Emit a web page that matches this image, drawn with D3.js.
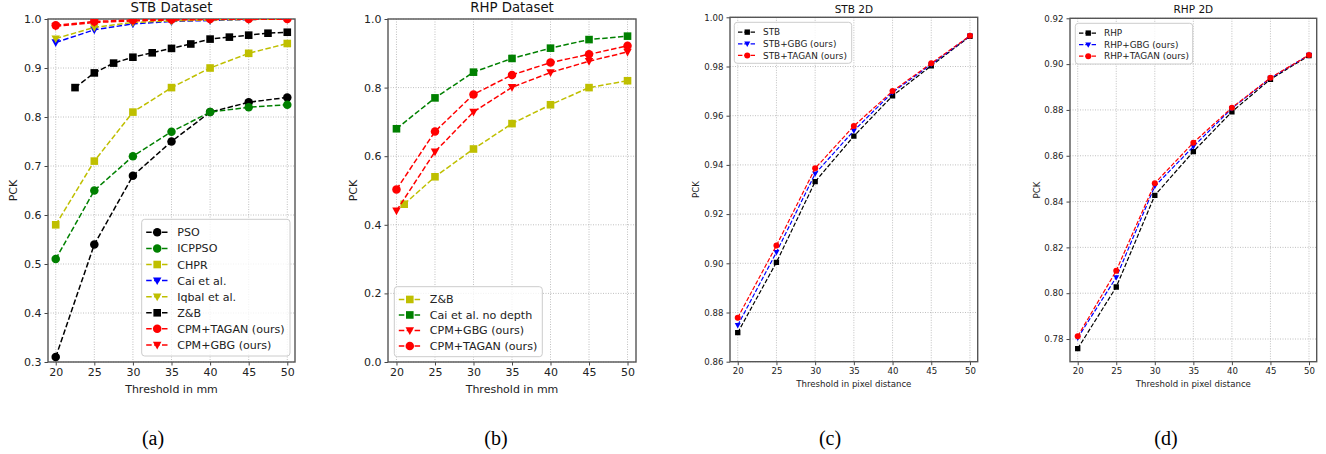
<!DOCTYPE html>
<html>
<head>
<meta charset="utf-8">
<script src="https://cdn.jsdelivr.net/npm/d3@7"></script>
<style>
  body { margin: 0; background: #fff; }
  svg { display: block; font-family: "DejaVu Sans", sans-serif; }
  .grid line { stroke: #b0b0b0; stroke-width: 0.8; stroke-dasharray: 1,1.5; }
  .axis path, .axis line { stroke: #444; }
  .axis text { fill: #222; }
</style>
</head>
<body>
<div class="chart"></div>
<script>
// === Data ===
const thresholds = [20, 25, 30, 35, 40, 45, 50];
const zbThresholdsA = [22.5, 25, 27.5, 30, 32.5, 35, 37.5, 40, 42.5, 45, 47.5, 50];
const zbThresholdsB = [21, 25, 30, 35, 40, 45, 50];

// (a) STB Dataset
const stbPSO    = [0.31, 0.54, 0.68, 0.75, 0.81, 0.83, 0.84];
const stbICPPSO = [0.51, 0.65, 0.72, 0.77, 0.81, 0.82, 0.825];
const stbCHPR   = [0.58, 0.71, 0.81, 0.86, 0.90, 0.93, 0.95];
const stbCai    = [0.952, 0.978, 0.99, 0.995, 0.997, 0.999, 1.0];
const stbIqbal  = [0.96, 0.983, 0.993, 0.996, 0.998, 0.999, 1.0];
const stbZB     = [0.86, 0.89, 0.91, 0.922, 0.931, 0.94, 0.949, 0.959, 0.963, 0.967, 0.971, 0.973];
const stbTAGAN  = [0.987, 0.995, 0.998, 0.999, 1.0, 1.0, 1.0];
const stbGBG    = [0.985, 0.993, 0.996, 0.998, 0.999, 1.0, 1.0];

// (b) RHP Dataset
const rhpZB      = [0.46, 0.54, 0.621, 0.695, 0.75, 0.80, 0.82];
const rhpCaiNoD  = [0.68, 0.77, 0.845, 0.885, 0.915, 0.94, 0.95];
const rhpGBG     = [0.441, 0.613, 0.729, 0.801, 0.844, 0.877, 0.904];
const rhpTAGAN   = [0.503, 0.672, 0.78, 0.837, 0.873, 0.897, 0.922];

// (c) STB 2D
const stb2dBase  = [0.8718, 0.9004, 0.9332, 0.9517, 0.9681, 0.9803, 0.9923];
const stb2dGBG   = [0.8748, 0.9045, 0.9364, 0.9539, 0.9695, 0.9809, 0.9924];
const stb2dTAGAN = [0.8779, 0.9072, 0.9386, 0.9558, 0.9700, 0.9813, 0.9925];

// (d) RHP 2D
const rhp2dBase  = [0.7758, 0.8027, 0.8427, 0.8618, 0.8792, 0.8934, 0.9037];
const rhp2dGBG   = [0.7805, 0.8069, 0.8467, 0.8640, 0.8807, 0.8939, 0.9040];
const rhp2dTAGAN = [0.7812, 0.8098, 0.8480, 0.8657, 0.8810, 0.8940, 0.9040];

const captions = ["(a)", "(b)", "(c)", "(d)"];

// === Colours (matplotlib shorthands) ===
const C = {k: "#000000", g: "#008000", y: "#bfbf00", b: "#0000ff", r: "#ff0000"};

// === Panels ===
const panels = [
  {
    title: "STB Dataset", xLabel: "Threshold in mm", big: true,
    left: 48, right: 295, top: 19, bottom: 362,
    yDomain: [0.3, 1.0], yTicks: d3.range(0.3, 1.001, 0.1), yFmt: ".1f",
    legend: {x: 141.7, y: 219.3, w: 148.3, h: 136.7},
    series: [
      {name: "PSO", x: thresholds, y: stbPSO, color: C.k, marker: "circle"},
      {name: "ICPPSO", x: thresholds, y: stbICPPSO, color: C.g, marker: "circle"},
      {name: "CHPR", x: thresholds, y: stbCHPR, color: C.y, marker: "square"},
      {name: "Cai et al.", x: thresholds, y: stbCai, color: C.b, marker: "tri"},
      {name: "Iqbal et al.", x: thresholds, y: stbIqbal, color: C.y, marker: "tri"},
      {name: "Z&B", x: zbThresholdsA, y: stbZB, color: C.k, marker: "square"},
      {name: "CPM+TAGAN (ours)", x: thresholds, y: stbTAGAN, color: C.r, marker: "circle"},
      {name: "CPM+GBG (ours)", x: thresholds, y: stbGBG, color: C.r, marker: "tri"}
    ]
  },
  {
    title: "RHP Dataset", xLabel: "Threshold in mm", big: true,
    left: 388, right: 636, top: 19, bottom: 362,
    yDomain: [0, 1.0], yTicks: d3.range(0, 1.001, 0.2), yFmt: ".1f",
    legend: {x: 394.3, y: 286.7, w: 148, h: 70},
    series: [
      {name: "Z&B", x: zbThresholdsB, y: rhpZB, color: C.y, marker: "square"},
      {name: "Cai et al. no depth", x: thresholds, y: rhpCaiNoD, color: C.g, marker: "square"},
      {name: "CPM+GBG (ours)", x: thresholds, y: rhpGBG, color: C.r, marker: "tri"},
      {name: "CPM+TAGAN (ours)", x: thresholds, y: rhpTAGAN, color: C.r, marker: "circle"}
    ]
  },
  {
    title: "STB 2D", xLabel: "Threshold in pixel distance", big: false,
    left: 730, right: 977.7, top: 17.3, bottom: 361.7,
    yDomain: [0.86, 1.0], yTicks: d3.range(0.86, 1.0001, 0.02), yFmt: ".2f",
    legend: {x: 734.3, y: 22.3, w: 117.4, h: 41},
    series: [
      {name: "STB", x: thresholds, y: stb2dBase, color: C.k, marker: "square"},
      {name: "STB+GBG (ours)", x: thresholds, y: stb2dGBG, color: C.b, marker: "tri"},
      {name: "STB+TAGAN (ours)", x: thresholds, y: stb2dTAGAN, color: C.r, marker: "circle"}
    ]
  },
  {
    title: "RHP 2D", xLabel: "Threshold in pixel distance", big: false,
    left: 1070, right: 1316.7, top: 18.3, bottom: 361.7,
    yDomain: [0.7701, 0.92], yTicks: d3.range(0.78, 0.9201, 0.02), yFmt: ".2f",
    legend: {x: 1075.3, y: 23.3, w: 117.4, h: 40.7},
    series: [
      {name: "RHP", x: thresholds, y: rhp2dBase, color: C.k, marker: "square"},
      {name: "RHP+GBG (ours)", x: thresholds, y: rhp2dGBG, color: C.b, marker: "tri"},
      {name: "RHP+TAGAN (ours)", x: thresholds, y: rhp2dTAGAN, color: C.r, marker: "circle"}
    ]
  }
];
const captionX = [153, 496, 830, 1166];

// === SVG ===
const width = 1326, height = 454;
const svg = d3.select(".chart").append("svg")
    .attr("width", width)
    .attr("height", height);

function markerPath(kind, s) {
  if (kind === "circle") return d3.symbol(d3.symbolCircle, Math.PI * (s / 2) * (s / 2))();
  if (kind === "square") return d3.symbol(d3.symbolSquare, s * s * 0.8)();
  // triangle pointing down
  const h = s * 0.5;
  return `M${-h},${-h * 0.75}L${h},${-h * 0.75}L0,${h * 1.05}Z`;
}

panels.forEach((p, i) => {
  const tickFont = p.big ? 11 : 8.6;
  const legFont = p.big ? 11.1 : 8.9;
  const mSize = p.big ? 8.5 : 6;
  const lw = p.big ? 1.5 : 1.2;

  const x = d3.scaleLinear().domain([19, 51]).range([p.left, p.right]);
  if (i === 1) x.domain([18.9, 51.1]);
  const y = d3.scaleLinear().domain(p.yDomain).range([p.bottom, p.top]);

  const g = svg.append("g");

  // === Grid ===
  const grid = g.append("g").attr("class", "grid");
  grid.selectAll(".gx").data(thresholds).join("line")
      .attr("x1", d => x(d)).attr("x2", d => x(d))
      .attr("y1", p.top).attr("y2", p.bottom);
  grid.selectAll(".gy").data(p.yTicks).join("line")
      .attr("x1", p.left).attr("x2", p.right)
      .attr("y1", d => y(d)).attr("y2", d => y(d));

  // === Axes ===
  const xAxis = d3.axisBottom(x).tickValues(thresholds).tickSize(3.5).tickPadding(3)
      .tickFormat(d3.format("d"));
  const yAxis = d3.axisLeft(y).tickValues(p.yTicks).tickSize(3.5).tickPadding(3)
      .tickFormat(d3.format(p.yFmt));

  g.append("g").attr("class", "axis")
      .attr("transform", `translate(0,${p.bottom})`)
      .call(xAxis)
      .call(a => a.select(".domain").remove())
      .selectAll("text").style("font-size", tickFont + "px")
      .style("font-family", "DejaVu Sans");
  g.append("g").attr("class", "axis")
      .attr("transform", `translate(${p.left},0)`)
      .call(yAxis)
      .call(a => a.select(".domain").remove())
      .selectAll("text").style("font-size", tickFont + "px")
      .style("font-family", "DejaVu Sans");

  // frame
  g.append("rect")
      .attr("x", p.left).attr("y", p.top)
      .attr("width", p.right - p.left).attr("height", p.bottom - p.top)
      .attr("fill", "none").attr("stroke", "#555").attr("stroke-width", 1.4);

  // titles & labels
  g.append("text")
      .attr("x", (p.left + p.right) / 2).attr("y", p.big ? 12 : 12.5)
      .attr("text-anchor", "middle")
      .style("font-size", (p.big ? 13.3 : 10.5) + "px")
      .attr("fill", "#111")
      .text(p.title);
  g.append("text")
      .attr("x", (p.left + p.right) / 2).attr("y", p.big ? 393 : 387)
      .attr("text-anchor", "middle")
      .style("font-size", (p.big ? 11 : 8.6) + "px")
      .attr("fill", "#222")
      .text(p.xLabel);
  const pckX = [17, 357, 699, 1040][i];
  g.append("text")
      .attr("transform", `translate(${pckX},${(p.top + p.bottom) / 2}) rotate(-90)`)
      .attr("text-anchor", "middle")
      .style("font-size", (p.big ? 11 : 8.6) + "px")
      .attr("fill", "#222")
      .text("PCK");

  // === Lines & markers ===
  const clipId = "clip" + i;
  g.append("clipPath").attr("id", clipId).append("rect")
      .attr("x", p.left).attr("y", p.top)
      .attr("width", p.right - p.left).attr("height", p.bottom - p.top);
  const plot = g.append("g").attr("clip-path", `url(#${clipId})`);

  const line = d3.line().x(d => x(d[0])).y(d => y(d[1]));

  p.series.forEach(s => {
    const pts = s.x.map((v, j) => [v, s.y[j]]);
    const sg = plot.append("g");
    sg.append("path")
        .attr("d", line(pts))
        .attr("fill", "none")
        .attr("stroke", s.color)
        .attr("stroke-width", lw)
        .attr("stroke-dasharray", p.big ? "5.5,2.4" : "4.4,1.9");
    sg.selectAll("path.m").data(pts).join("path")
        .attr("class", "m")
        .attr("transform", d => `translate(${x(d[0])},${y(d[1])})`)
        .attr("d", markerPath(s.marker, mSize))
        .attr("fill", s.color);
  });

  // === Legend ===
  const L = p.legend;
  const lg = g.append("g");
  lg.append("rect")
      .attr("x", L.x).attr("y", L.y).attr("width", L.w).attr("height", L.h)
      .attr("rx", 3)
      .attr("fill", "rgba(255,255,255,0.8)")
      .attr("stroke", "#ccc");
  const step = (L.h - (p.big ? 8 : 6)) / p.series.length;
  const hx0 = L.x + (p.big ? 4.5 : 3.7);
  const hx1 = hx0 + (p.big ? 22 : 18.5);
  p.series.forEach((s, j) => {
    const cy = L.y + (p.big ? 4 : 3) + step * (j + 0.5) + 1;
    lg.append("line")
        .attr("x1", hx0).attr("x2", hx1).attr("y1", cy).attr("y2", cy)
        .attr("stroke", s.color).attr("stroke-width", lw)
        .attr("stroke-dasharray", p.big ? "5.5,2.4" : "4.4,1.9");
    lg.append("path")
        .attr("transform", `translate(${(hx0 + hx1) / 2},${cy})`)
        .attr("d", markerPath(s.marker, mSize))
        .attr("fill", s.color);
    lg.append("text")
        .attr("x", hx1 + (p.big ? 9 : 6.5)).attr("y", cy)
        .attr("dy", "0.36em")
        .style("font-size", legFont + "px")
        .attr("fill", "#222")
        .text(s.name);
  });

  // === Caption ===
  svg.append("text")
      .attr("x", captionX[i]).attr("y", 445)
      .attr("text-anchor", "middle")
      .style("font-family", "'Liberation Serif', serif")
      .style("font-size", "20px")
      .attr("fill", "#000")
      .text(captions[i]);
});
</script>
</body>
</html>
